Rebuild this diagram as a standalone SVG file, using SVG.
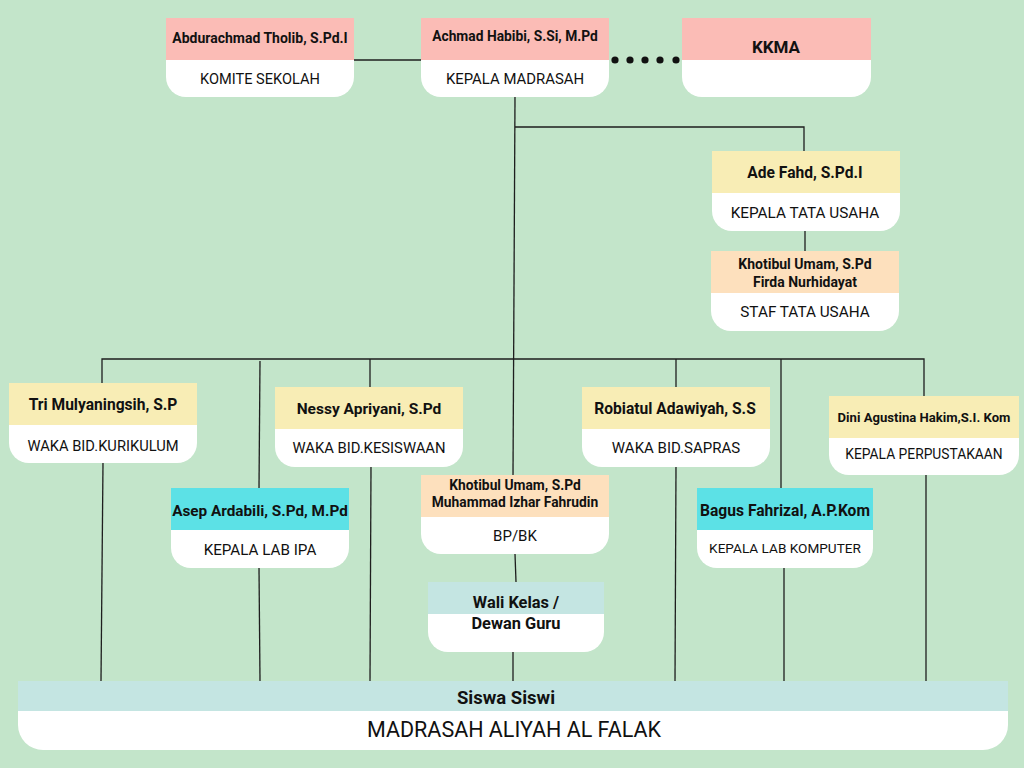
<svg xmlns="http://www.w3.org/2000/svg" width="1024" height="768" viewBox="0 0 1024 768">
<style>
.bg{fill:#c3e5ca}
.w{fill:#ffffff}
.pink{fill:#fbbcb6}
.yel{fill:#f8edb5}
.peach{fill:#fde0bd}
.cyan{fill:#5ce1e6}
.teal{fill:#c4e5e2}
.ln{stroke:#1e1e1e;stroke-width:1.3;fill:none}
.nm{font-family:Roboto,"Liberation Sans",sans-serif;font-weight:bold;font-size:14px;fill:#111;text-anchor:middle}
.nb{font-family:Roboto,"Liberation Sans",sans-serif;font-weight:bold;font-size:15.6px;fill:#111;text-anchor:middle}
.rl{font-family:Roboto,"Liberation Sans",sans-serif;font-size:15px;fill:#111;text-anchor:middle}
.rs{font-family:Roboto,"Liberation Sans",sans-serif;font-size:13.8px;fill:#111;text-anchor:middle}
</style>
<rect class="bg" x="0" y="0" width="1024" height="768"/>
<g id="connectors">
<line class="ln" x1="354" y1="60" x2="421" y2="60"/>
<line class="ln" x1="515" y1="97" x2="513" y2="475"/>
<polyline class="ln" points="515,127 804,127 804,151"/>
<line class="ln" x1="805" y1="231" x2="805" y2="251"/>
<polyline class="ln" points="102,383 102,359 924,359 924,396"/>
<line class="ln" x1="260" y1="361" x2="259" y2="488"/>
<line class="ln" x1="370" y1="359" x2="370" y2="387"/>
<line class="ln" x1="676" y1="359" x2="676" y2="387"/>
<line class="ln" x1="781" y1="359" x2="781" y2="488"/>
<line class="ln" x1="103" y1="463" x2="101" y2="681"/>
<line class="ln" x1="259" y1="568" x2="260" y2="681"/>
<line class="ln" x1="371" y1="467" x2="370" y2="681"/>
<line class="ln" x1="515" y1="554" x2="516" y2="582"/>
<line class="ln" x1="513" y1="652" x2="513" y2="681"/>
<line class="ln" x1="676" y1="467" x2="675" y2="681"/>
<line class="ln" x1="784" y1="568" x2="784" y2="681"/>
<line class="ln" x1="926" y1="475" x2="926" y2="681"/>
<g fill="#111">
<circle cx="615" cy="60" r="3.6"/>
<circle cx="630" cy="60" r="3.6"/>
<circle cx="645" cy="60" r="3.6"/>
<circle cx="660" cy="60" r="3.6"/>
<circle cx="676" cy="60" r="3.6"/>
</g>
</g>
<g id="komite">
<path class="w" d="M166,55 H354 V77 A20,20 0 0 1 334,97 H186 A20,20 0 0 1 166,77 Z"/>
<rect class="pink" x="166" y="18" width="188" height="42"/>
<text class="nm" x="260" y="43">Abdurachmad Tholib, S.Pd.I</text>
<text class="rl" x="260" y="84" style="font-size:14.6px">KOMITE SEKOLAH</text>
</g>
<g id="kepala">
<path class="w" d="M421,55 H609 V77 A20,20 0 0 1 589,97 H441 A20,20 0 0 1 421,77 Z"/>
<rect class="pink" x="421" y="18" width="188" height="42"/>
<text class="nm" x="515" y="41" style="font-size:13.8px">Achmad Habibi, S.Si, M.Pd</text>
<text class="rl" x="515" y="84" style="font-size:14.9px">KEPALA MADRASAH</text>
</g>
<g id="kkma">
<path class="w" d="M682,55 H871 V77 A20,20 0 0 1 851,97 H702 A20,20 0 0 1 682,77 Z"/>
<rect class="pink" x="682" y="18" width="189" height="42"/>
<text x="776" y="53" style="font-family:Roboto,'Liberation Sans',sans-serif;font-weight:bold;font-size:17px;fill:#111;text-anchor:middle">KKMA</text>
</g>
<g id="tu">
<path class="w" d="M712,188 H900 V211 A20,20 0 0 1 880,231 H732 A20,20 0 0 1 712,211 Z"/>
<rect class="yel" x="712" y="151" width="188" height="42"/>
<text class="nb" x="805" y="178">Ade Fahd, S.Pd.I</text>
<text class="rl" x="805" y="218" style="font-size:15.3px">KEPALA TATA USAHA</text>
</g>
<g id="staf">
<path class="w" d="M711,288 H899 V311 A20,20 0 0 1 879,331 H731 A20,20 0 0 1 711,311 Z"/>
<rect class="peach" x="711" y="251" width="188" height="42"/>
<text class="nm" x="805" y="269">Khotibul Umam, S.Pd</text>
<text class="nm" x="805" y="287">Firda Nurhidayat</text>
<text class="rl" x="805" y="317" style="font-size:15.3px">STAF TATA USAHA</text>
</g>
<g id="kurikulum">
<path class="w" d="M9,420 H197 V443 A20,20 0 0 1 177,463 H29 A20,20 0 0 1 9,443 Z"/>
<rect class="yel" x="9" y="383" width="188" height="42"/>
<text class="nb" x="103" y="410">Tri Mulyaningsih, S.P</text>
<text class="rl" x="103" y="451" style="font-size:14.7px">WAKA BID.KURIKULUM</text>
</g>
<g id="kesiswaan">
<path class="w" d="M275,424 H463 V447 A20,20 0 0 1 443,467 H295 A20,20 0 0 1 275,447 Z"/>
<rect class="yel" x="275" y="387" width="188" height="42"/>
<text class="nb" x="369" y="414" style="font-size:15.5px">Nessy Apriyani, S.Pd</text>
<text class="rl" x="369" y="453" style="font-size:14.8px">WAKA BID.KESISWAAN</text>
</g>
<g id="labipa">
<path class="w" d="M171,525 H349 V548 A20,20 0 0 1 329,568 H191 A20,20 0 0 1 171,548 Z"/>
<rect class="cyan" x="171" y="488" width="178" height="42"/>
<text class="nb" x="260" y="516" style="font-size:15.3px">Asep Ardabili, S.Pd, M.Pd</text>
<text class="rl" x="260" y="555" style="font-size:15.2px">KEPALA LAB IPA</text>
</g>
<g id="bpbk">
<path class="w" d="M421,512 H609 V534 A20,20 0 0 1 589,554 H441 A20,20 0 0 1 421,534 Z"/>
<rect class="peach" x="421" y="475" width="188" height="42"/>
<text class="nm" x="515" y="490" style="font-size:13.8px">Khotibul Umam, S.Pd</text>
<text class="nm" x="515" y="507" style="font-size:13.8px">Muhammad Izhar Fahrudin</text>
<text class="rl" x="515" y="541">BP/BK</text>
</g>
<g id="sapras">
<path class="w" d="M582,424 H770 V447 A20,20 0 0 1 750,467 H602 A20,20 0 0 1 582,447 Z"/>
<rect class="yel" x="582" y="387" width="188" height="42"/>
<text class="nb" x="675" y="414">Robiatul Adawiyah, S.S</text>
<text class="rl" x="676" y="453">WAKA BID.SAPRAS</text>
</g>
<g id="labkomputer">
<path class="w" d="M697,525 H873 V548 A20,20 0 0 1 853,568 H717 A20,20 0 0 1 697,548 Z"/>
<rect class="cyan" x="697" y="488" width="176" height="42"/>
<text class="nb" x="785" y="516">Bagus Fahrizal, A.P.Kom</text>
<text class="rs" x="785" y="553" style="font-size:13.6px">KEPALA LAB KOMPUTER</text>
</g>
<g id="perpustakaan">
<path class="w" d="M829,433 H1019 V455 A20,20 0 0 1 999,475 H849 A20,20 0 0 1 829,455 Z"/>
<rect class="yel" x="829" y="396" width="190" height="42"/>
<text class="nm" x="924" y="422" style="font-size:13.1px">Dini Agustina Hakim,S.I. Kom</text>
<text class="rs" x="924" y="459">KEPALA PERPUSTAKAAN</text>
</g>
<g id="walikelas">
<path class="w" d="M428,609 H604 V632 A20,20 0 0 1 584,652 H448 A20,20 0 0 1 428,632 Z"/>
<rect class="teal" x="428" y="582" width="176" height="32"/>
<text class="nb" x="516" y="608" style="font-size:16.4px">Wali Kelas /</text>
<text class="nb" x="516" y="629" style="font-size:16.4px">Dewan Guru</text>
</g>
<g id="siswa">
<path class="w" d="M18,705 H1008 V725 A25,25 0 0 1 983,750 H43 A25,25 0 0 1 18,725 Z"/>
<rect class="teal" x="18" y="681" width="990" height="30"/>
<text class="nb" x="506" y="704" style="font-size:18.5px">Siswa Siswi</text>
<text class="rl" x="514" y="737" style="font-size:21.5px">MADRASAH ALIYAH AL FALAK</text>
</g>
</svg>
